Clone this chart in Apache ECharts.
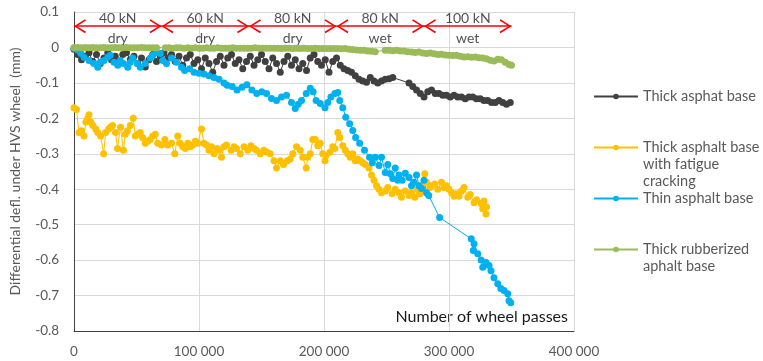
<!DOCTYPE html>
<html>
<head>
<meta charset="utf-8">
<script src="https://cdn.jsdelivr.net/npm/echarts@6/dist/echarts.min.js"></script>
<style>
html, body { margin: 0; padding: 0; background: #fff; }
#chart { width: 763px; height: 361px; }
</style>
</head>
<body>
<div id="chart"></div>
<script>
// test phases along the top of the plot
var phaseBounds = [0, 70000, 140000, 210000, 280000, 350000];
var phaseLoads = ['40 kN', '60 kN', '80 kN', '80 kN', '100 kN'];
var phaseConditions = ['dry', 'dry', 'dry', 'wet', 'wet'];

var seriesNames = ['Thick asphat base', 'Thick asphalt base with fatigue cracking', 'Thin asphalt base', 'Thick rubberized aphalt base'];

// [wheel passes, differential deflection mm]
var thickBase = [
	[0,-0.005],[3000,-0.02],[6000,-0.035],[9000,-0.025],[12000,-0.015],[15000,-0.04],[18000,-0.02],[21000,-0.045],
	[24000,-0.03],[27000,-0.015],[30000,-0.035],[33000,-0.025],[36000,-0.04],[39000,-0.02],[42000,-0.015],[45000,-0.035],
	[48000,-0.025],[51000,-0.045],[54000,-0.03],[57000,-0.055],[60000,-0.035],[63000,-0.02],[66000,-0.04],[69000,-0.025],
	[72000,-0.015],[75000,-0.03],[78000,-0.02],[81000,-0.04],[84000,-0.025],[87000,-0.05],[90000,-0.03],[93000,-0.02],
	[96000,-0.045],[99000,-0.035],[102000,-0.06],[105000,-0.03],[108000,-0.045],[111000,-0.07],[114000,-0.04],[117000,-0.025],
	[120000,-0.05],[123000,-0.03],[126000,-0.02],[129000,-0.045],[132000,-0.035],[135000,-0.06],[138000,-0.04],[141000,-0.025],
	[144000,-0.05],[147000,-0.035],[150000,-0.02],[153000,-0.04],[156000,-0.06],[159000,-0.03],[162000,-0.045],[165000,-0.07],
	[168000,-0.04],[171000,-0.025],[174000,-0.05],[177000,-0.035],[180000,-0.06],[183000,-0.045],[186000,-0.065],[189000,-0.03],
	[192000,-0.02],[195000,-0.04],[198000,-0.05],[201000,-0.035],[204000,-0.07],[207000,-0.04],[210000,-0.03],[213000,-0.05],
	[216000,-0.06],[219000,-0.065],[222000,-0.07],[225000,-0.08],[228000,-0.09],[231000,-0.095],[234000,-0.098],[237000,-0.085],
	[240000,-0.095],[243000,-0.1],[246000,-0.095],[249000,-0.09],[252000,-0.088],[255000,-0.085],[268000,-0.1],[271000,-0.11],
	[274000,-0.12],[277000,-0.13],[280000,-0.14],[283000,-0.125],[286000,-0.12],[289000,-0.13],[292000,-0.13],[295000,-0.135],
	[298000,-0.135],[301000,-0.14],[304000,-0.135],[307000,-0.14],[310000,-0.14],[313000,-0.145],[316000,-0.14],[319000,-0.14],
	[322000,-0.145],[325000,-0.145],[328000,-0.15],[331000,-0.15],[334000,-0.155],[337000,-0.155],[340000,-0.15],[343000,-0.155],
	[346000,-0.16],[349000,-0.155]
];

var crackedBase = [
	[0,-0.17],[2000,-0.175],[4000,-0.24],[6000,-0.235],[8000,-0.25],[9500,-0.21],[11000,-0.2],[12000,-0.19],
	[13400,-0.21],[15000,-0.22],[17400,-0.23],[19000,-0.24],[21300,-0.25],[23700,-0.3],[25300,-0.24],[27700,-0.23],
	[29000,-0.225],[30800,-0.22],[33200,-0.24],[34800,-0.285],[37200,-0.225],[39500,-0.29],[41000,-0.245],[42700,-0.235],
	[45000,-0.22],[47400,-0.2],[49000,-0.25],[51000,-0.245],[53000,-0.24],[55000,-0.255],[57000,-0.27],[59000,-0.265],
	[61000,-0.26],[63000,-0.25],[65000,-0.245],[67000,-0.27],[70000,-0.275],[72700,-0.26],[75000,-0.275],[78000,-0.27],
	[80600,-0.3],[83000,-0.25],[85000,-0.27],[87000,-0.28],[89000,-0.285],[91000,-0.27],[93000,-0.28],[95000,-0.275],
	[97000,-0.265],[99000,-0.27],[102000,-0.23],[104000,-0.27],[106000,-0.275],[108000,-0.29],[110000,-0.28],[112000,-0.3],
	[114600,-0.285],[116000,-0.29],[118000,-0.31],[120000,-0.28],[122000,-0.275],[125700,-0.29],[128000,-0.28],[130000,-0.285],
	[133000,-0.3],[136000,-0.28],[139000,-0.29],[141500,-0.277],[144000,-0.285],[146000,-0.29],[149000,-0.3],[151800,-0.29],
	[154000,-0.295],[157000,-0.3],[160000,-0.32],[162000,-0.34],[165000,-0.32],[167600,-0.33],[170700,-0.32],[173000,-0.315],
	[175000,-0.3],[178000,-0.28],[181000,-0.29],[183000,-0.31],[185800,-0.34],[187000,-0.31],[189000,-0.3],[191000,-0.26],
	[193000,-0.26],[195000,-0.277],[197000,-0.27],[199000,-0.3],[200800,-0.32],[201600,-0.305],[204700,-0.296],[207000,-0.28],
	[208700,-0.285],[211000,-0.24],[212600,-0.254],[215000,-0.277],[217000,-0.29],[219000,-0.3],[221000,-0.31],[223000,-0.3],
	[225000,-0.32],[227000,-0.315],[229000,-0.32],[231000,-0.325],[233000,-0.33],[236000,-0.34],[238000,-0.36],[240000,-0.375],
	[242000,-0.39],[244000,-0.4],[246000,-0.41],[249000,-0.405],[251000,-0.395],[254500,-0.413],[257000,-0.4],[260000,-0.41],
	[262000,-0.423],[265000,-0.405],[268000,-0.418],[270000,-0.41],[272700,-0.423],[275000,-0.4],[276700,-0.413],[278000,-0.39],
	[280600,-0.356],[282000,-0.38],[284600,-0.395],[286000,-0.39],[288500,-0.385],[291000,-0.4],[294000,-0.38],[296000,-0.395],
	[298000,-0.39],[300000,-0.4],[302000,-0.41],[304000,-0.42],[306000,-0.413],[308000,-0.42],[310000,-0.405],[312000,-0.395],
	[315000,-0.423],[317000,-0.415],[320000,-0.438],[322000,-0.43],[325700,-0.44],[327000,-0.455],[328000,-0.433],[329600,-0.47],
	[330000,-0.45]
];

var thinBase = [
	[0,-0.003],[3000,-0.008],[5500,-0.017],[8000,-0.028],[12000,-0.037],[16000,-0.045],[19000,-0.056],[21000,-0.042],
	[24000,-0.037],[27000,-0.028],[29000,-0.022],[32000,-0.042],[35000,-0.05],[37000,-0.037],[39500,-0.045],[43000,-0.056],
	[45000,-0.042],[47000,-0.03],[50600,-0.045],[53000,-0.056],[57000,-0.045],[61000,-0.03],[63000,-0.022],[66000,-0.014],
	[69000,-0.017],[71000,-0.037],[74000,-0.045],[78000,-0.03],[82000,-0.042],[86000,-0.056],[88500,-0.065],[92500,-0.06],
	[96000,-0.07],[100000,-0.073],[104000,-0.075],[108000,-0.08],[112000,-0.085],[116000,-0.09],[120000,-0.1],[122500,-0.107],
	[126500,-0.11],[130400,-0.12],[134400,-0.112],[138300,-0.105],[142300,-0.12],[146200,-0.13],[150200,-0.125],[154000,-0.13],
	[158000,-0.144],[162000,-0.15],[166000,-0.14],[170000,-0.135],[174000,-0.155],[177000,-0.172],[179400,-0.16],[182000,-0.15],
	[185800,-0.13],[189000,-0.115],[191300,-0.125],[193700,-0.15],[197000,-0.158],[200800,-0.17],[203000,-0.155],[205500,-0.14],
	[208700,-0.13],[211000,-0.127],[212600,-0.15],[215000,-0.17],[217400,-0.197],[220500,-0.215],[223000,-0.234],[225300,-0.254],
	[228500,-0.27],[232400,-0.29],[236400,-0.31],[238700,-0.325],[241000,-0.31],[244000,-0.333],[246000,-0.31],[249000,-0.353],
	[251000,-0.33],[253000,-0.356],[255000,-0.37],[257000,-0.34],[259000,-0.375],[260000,-0.36],[262500,-0.375],[265000,-0.355],
	[268000,-0.367],[270000,-0.39],[272000,-0.38],[274000,-0.36],[276000,-0.39],[278000,-0.398],[280000,-0.375],[282000,-0.41],
	[283800,-0.418],[292500,-0.48],[317800,-0.54],[319400,-0.573],[320000,-0.554],[323000,-0.582],[325700,-0.6],[327000,-0.62],
	[329600,-0.607],[332000,-0.615],[333600,-0.63],[336000,-0.65],[339000,-0.667],[341500,-0.68],[344000,-0.686],[347000,-0.695],
	[348000,-0.715],[349400,-0.72]
];

var rubberBase = [
	[0,0],[3000,0],[6000,-0.001],[9000,0],[12000,-0.001],[15000,0],[18000,-0.001],[21000,-0.001],
	[24000,0],[27000,-0.001],[30000,-0.001],[33000,0],[36000,-0.001],[39000,-0.001],[42000,0],[45000,-0.001],
	[48000,-0.001],[51000,-0.001],[54000,0],[57000,-0.001],[60000,-0.001],[63000,-0.001],[66000,-0.001],[73000,-0.001],
	[76000,-0.001],[79000,-0.002],[82000,-0.001],[85000,-0.001],[88000,-0.002],[91000,-0.001],[94000,-0.002],[97000,-0.001],
	[100000,-0.002],[103000,-0.002],[106000,-0.001],[109000,-0.002],[112000,-0.002],[115000,-0.001],[118000,-0.002],[121000,-0.002],
	[124000,-0.002],[127000,-0.001],[130000,-0.002],[133000,-0.002],[136000,-0.002],[139000,-0.002],[142000,-0.002],[145000,-0.001],
	[148000,-0.002],[151000,-0.002],[154000,-0.002],[157000,-0.002],[160000,-0.002],[163000,-0.002],[166000,-0.003],[169000,-0.002],
	[172000,-0.002],[175000,-0.003],[178000,-0.002],[181000,-0.003],[184000,-0.002],[187000,-0.003],[190000,-0.003],[193000,-0.002],
	[196000,-0.003],[199000,-0.003],[202000,-0.003],[205000,-0.003],[208000,-0.003],[211000,-0.003],[214000,-0.004],[217000,-0.003],
	[220000,-0.005],[223000,-0.006],[226000,-0.007],[229000,-0.008],[232000,-0.008],[235000,-0.01],[238000,-0.011],[241000,-0.012],
	[249000,-0.008],[252000,-0.008],[255000,-0.009],[258000,-0.008],[261000,-0.01],[264000,-0.01],[267000,-0.012],[270000,-0.013],
	[273000,-0.014],[276000,-0.013],[279000,-0.016],[282000,-0.017],[285000,-0.016],[288000,-0.018],[291000,-0.02],[294000,-0.019],
	[297000,-0.021],[300000,-0.022],[303000,-0.023],[306000,-0.022],[309000,-0.025],[312000,-0.027],[315000,-0.026],[318000,-0.028],
	[321000,-0.027],[324000,-0.029],[327000,-0.03],[330000,-0.032],[333000,-0.036],[336000,-0.038],[339000,-0.033],[342000,-0.035],
	[345000,-0.042],[348000,-0.048],[350000,-0.05]
];

var seriesData = [thickBase, crackedBase, thinBase, rubberBase];
var seriesColors = ['#404040', '#ffc000', '#00b0f0', '#9bbb59'];

// legend text laid out like the spreadsheet one (first line beside the icon)
var legendText = {
	'Thick asphat base': '\n\nThick asphat base\n\n',
	'Thick asphalt base with fatigue cracking': '\n\nThick asphalt base\nwith fatigue\ncracking',
	'Thin asphalt base': '\n\nThin asphalt base\n\n',
	'Thick rubberized aphalt base': '\n\nThick rubberized\naphalt base\n'
};

var FONT = 'Lato';
var chevron = 'path://M7,0 L14,11 L12.6,12 L7,2.8 L1.4,12 L0,11 Z';

var initChart = function(){
	var chart = echarts.init(document.getElementById('chart'));

	var series = [];
	for (var i = 0; i < seriesNames.length; i++) {
		series.push({
			name: seriesNames[i],
			type: 'line',
			data: seriesData[i],
			symbol: 'circle',
			symbolSize: 7,
			showSymbol: true,
			showAllSymbol: true,
			lineStyle: { width: 1, color: seriesColors[i] },
			itemStyle: { color: seriesColors[i] },
			emphasis: { disabled: true },
			animation: false
		});
	}

	// load / condition labels and the red arrows above the curves
	var phaseText = [];
	var arrows = [];
	for (var p = 0; p < phaseLoads.length; p++) {
		var mid = (phaseBounds[p] + phaseBounds[p + 1]) / 2;
		phaseText.push({ name: phaseLoads[p], value: [mid, 0.082] });
		phaseText.push({ name: phaseConditions[p], value: [mid, 0.026] });
		arrows.push([{ coord: [phaseBounds[p], 0.06] }, { coord: [phaseBounds[p + 1], 0.06] }]);
	}
	series.push({
		name: 'phases',
		type: 'scatter',
		data: phaseText,
		symbolSize: 0,
		silent: true,
		animation: false,
		z: 5,
		label: {
			show: true,
			position: 'inside',
			formatter: function(d){ return d.name; },
			fontFamily: FONT,
			fontSize: 14,
			color: '#262626'
		},
		markLine: {
			silent: true,
			animation: false,
			symbol: [chevron, chevron],
			symbolSize: [14, 12],
			symbolOffset: [[0, 6], [0, 6]],
			label: { show: false },
			lineStyle: { color: '#ff0000', width: 1.5, type: 'solid' },
			data: arrows
		}
	});

	chart.setOption({
		backgroundColor: '#fff',
		animation: false,
		grid: { left: 68, right: 189, top: 12, bottom: 30, containLabel: false },
		xAxis: {
			type: 'value',
			min: 0,
			max: 400000,
			interval: 100000,
			axisLine: { show: true, onZero: false, lineStyle: { color: '#404040', width: 1 } },
			axisTick: { show: false },
			splitLine: { show: true, lineStyle: { color: '#d9d9d9', width: 1 } },
			axisLabel: {
				margin: 14,
				fontFamily: FONT,
				fontSize: 13.5,
				color: '#595959',
				formatter: function(v){ return v === 0 ? '0' : (v / 1000) + ' 000'; }
			}
		},
		yAxis: {
			type: 'value',
			min: -0.8,
			max: 0.1,
			interval: 0.1,
			name: 'Differential defl. under HVS wheel  (mm)',
			nameLocation: 'middle',
			nameGap: 52,
			nameTextStyle: { fontFamily: FONT, fontSize: 14, color: '#595959' },
			axisLine: { show: true, onZero: false, lineStyle: { color: '#404040', width: 1 } },
			axisTick: { show: false },
			splitLine: { show: true, lineStyle: { color: '#d9d9d9', width: 1 } },
			axisLabel: {
				margin: 15,
				fontFamily: FONT,
				fontSize: 13.5,
				color: '#595959',
				formatter: function(v){ return Math.abs(v) < 1e-9 ? '0' : v.toFixed(1); }
			}
		},
		legend: {
			data: seriesNames,
			orient: 'vertical',
			left: 593,
			top: 54,
			padding: 0,
			itemWidth: 44,
			itemHeight: 7,
			itemGap: -34,
			selectedMode: false,
			formatter: function(name){ return legendText[name]; },
			textStyle: { fontFamily: FONT, fontSize: 14.5, color: '#595959', lineHeight: 17 }
		},
		graphic: [{
			type: 'text',
			right: 195,
			top: 309,
			silent: true,
			style: { text: 'Number of wheel passes', font: '16px Lato', fill: '#1a1a1a' }
		}],
		series: series
	});
}

initChart();
</script>
</body>
</html>
